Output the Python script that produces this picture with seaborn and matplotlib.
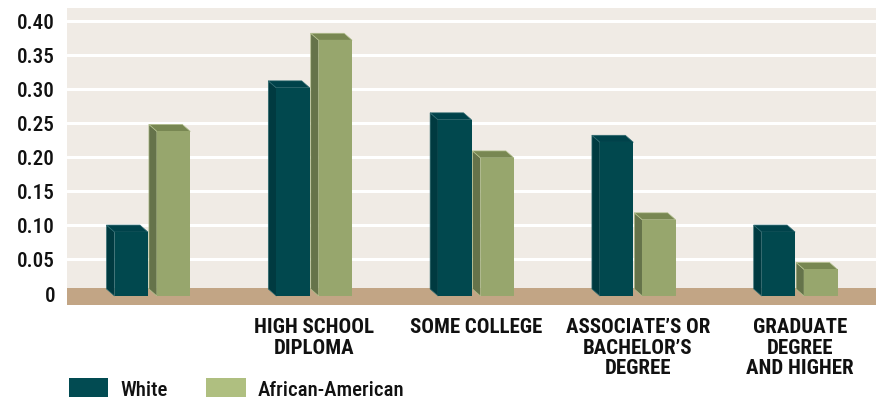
import pandas as pd
import matplotlib
matplotlib.use("Agg")
import matplotlib.pyplot as plt
from matplotlib.patches import Polygon, Patch
import seaborn as sns

# Educational attainment levels (first group carries no label)
levels = [
    "",
    "HIGH SCHOOL\nDIPLOMA",
    "SOME COLLEGE",
    "ASSOCIATE\u2019S OR\nBACHELOR\u2019S\nDEGREE",
    "GRADUATE\nDEGREE\nAND HIGHER",
]
groups = ["White", "African-American"]
white = [0.094, 0.306, 0.259, 0.226, 0.094]
african_american = [0.242, 0.376, 0.203, 0.112, 0.039]

y_ticks = [0, 0.05, 0.10, 0.15, 0.20, 0.25, 0.30, 0.35, 0.40]
y_tick_labels = ["0", "0.05", "0.10", "0.15", "0.20", "0.25", "0.30", "0.35", "0.40"]

df = pd.DataFrame({
    "level": levels * 2,
    "group": [groups[0]] * len(levels) + [groups[1]] * len(levels),
    "share": white + african_american,
})

# colours: front face, side face, top face, face edge, legend swatch
TEAL = dict(front="#01484e", side="#003a40", top="#00424a", edge="#2f6a70", legend="#024b52")
GREEN = dict(front="#97a66d", side="#65734a", top="#788752", edge="#b3c08e", legend="#afbf80")
PANEL = "#f0ebe5"
FLOOR = "#c2a585"
INK = "#111111"
FONT = ["Roboto Condensed", "Liberation Sans", "DejaVu Sans"]

sns.set_style("white")
plt.rcParams["font.family"] = FONT

W, H = 880, 402
fig = plt.figure(figsize=(W / 100, H / 100), dpi=100)
ax = fig.add_axes([67 / W, (H - 305.7) / H, (876 - 67) / W, (305.7 - 9) / H])

sns.barplot(
    data=df, x="level", y="share", hue="group",
    order=levels, hue_order=groups,
    palette=[TEAL["front"], GREEN["front"]], saturation=1,
    width=0.524, gap=0.212, linewidth=0, legend=False,
    ax=ax, zorder=3,
)

y_lo, y_hi = -0.0172, 0.419
ax.set_xlim(-0.528, 4.472)
ax.set_ylim(y_lo, y_hi)
ax.set_facecolor(PANEL)
for s in ax.spines.values():
    s.set_visible(False)

# white horizontal rules on the back wall
for t in y_ticks[1:]:
    ax.axhline(t, color="white", lw=2.2, zorder=1)

# tan floor slab
ax.axhspan(y_lo, 0.0078, color=FLOOR, lw=0, zorder=1.5)

# depth of the extruded columns, in data units
px_x = ax.bbox.width / (ax.get_xlim()[1] - ax.get_xlim()[0])
px_y = ax.bbox.height / (y_hi - y_lo)
dx = 8 / px_x
dy = 7 / px_y
base = -3 / px_y

for cont, shade in zip(ax.containers, [TEAL, GREEN]):
    for bar in cont:
        bar.set_y(base)
        x0 = bar.get_x()
        x1 = x0 + bar.get_width()
        yb = base
        yt = base + bar.get_height()
        side = Polygon([(x0, yb), (x0, yt), (x0 - dx, yt + dy), (x0 - dx, yb + dy)],
                       closed=True, facecolor=shade["side"], edgecolor=shade["edge"],
                       lw=0.5, zorder=2.9)
        top = Polygon([(x0, yt), (x1, yt), (x1 - dx, yt + dy), (x0 - dx, yt + dy)],
                      closed=True, facecolor=shade["top"], edgecolor=shade["edge"],
                      lw=0.5, zorder=2.9)
        ax.add_patch(side)
        ax.add_patch(top)

ax.set_xlabel("")
ax.set_ylabel("")
ax.set_yticks(y_ticks, y_tick_labels)
ax.tick_params(axis="y", length=0, pad=8.6, labelcolor=INK)
ax.tick_params(axis="x", length=0, pad=9.0, labelcolor=INK)
for lab in ax.get_yticklabels():
    lab.set_fontsize(15.2)
    lab.set_fontweight(500)
for lab in ax.get_xticklabels():
    lab.set_fontsize(15)
    lab.set_fontweight("bold")
    lab.set_linespacing(1.1)

handles = [Patch(facecolor=TEAL["legend"], lw=0), Patch(facecolor=GREEN["legend"], lw=0)]
fig.legend(
    handles, groups, loc="upper left", bbox_to_anchor=(69 / W, 1 - 379 / H),
    ncol=2, frameon=False, handlelength=1.88, handleheight=1.06,
    handletextpad=0.58, columnspacing=1.86, borderpad=0, borderaxespad=0,
    labelcolor=INK, prop=dict(family=FONT, size=15, weight=500),
)

fig.savefig("out.png", dpi=100, facecolor="white")
